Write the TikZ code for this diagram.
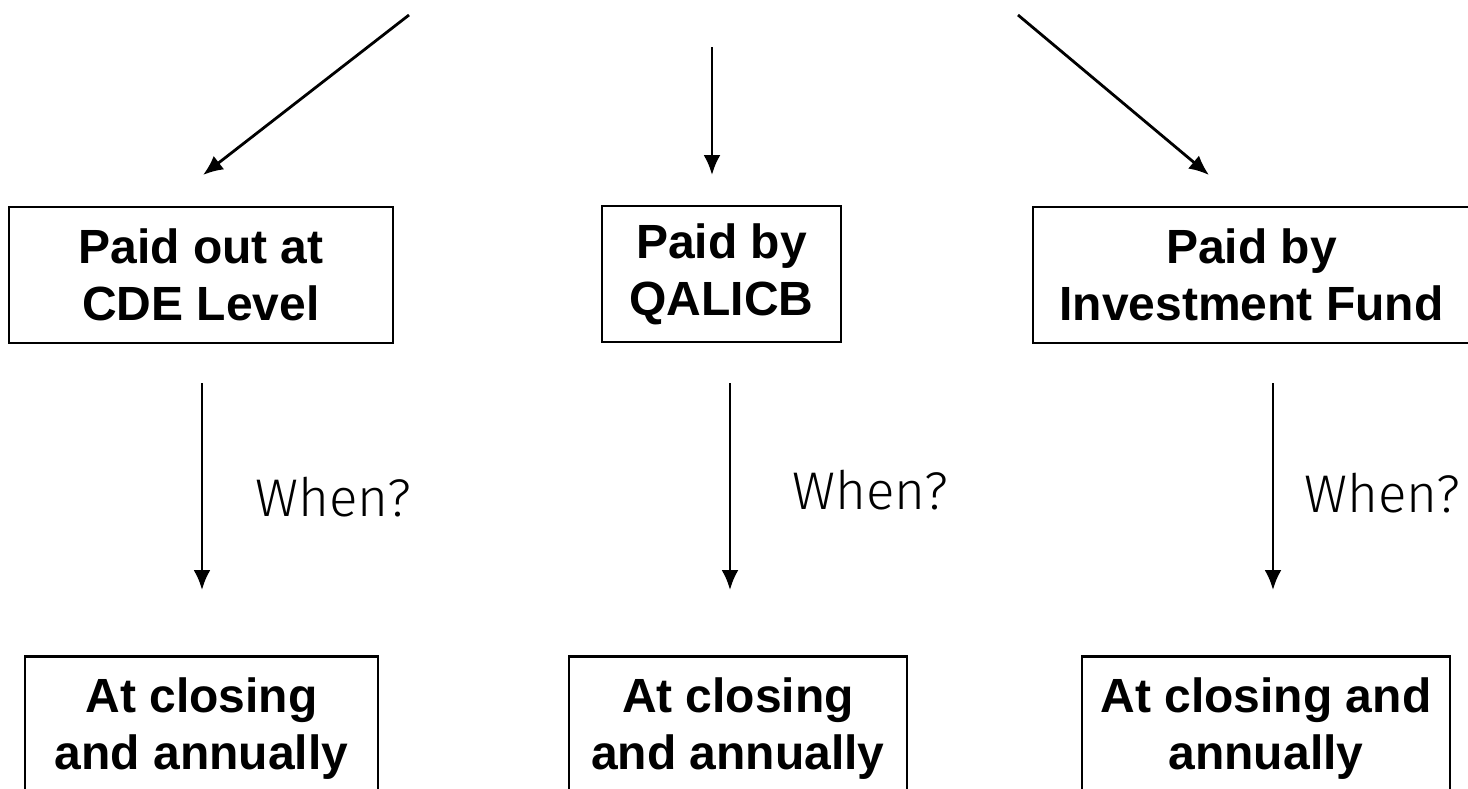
\documentclass[tikz,border=0pt]{standalone}
\usepackage{fontspec}
\setmainfont{Liberation Sans}
\newfontfamily\whenfont{Fira Sans Light}
\usetikzlibrary{arrows.meta}
\begin{document}
\begin{tikzpicture}[x=1pt,y=-1pt,
  box/.style={draw, line width=2.8pt, align=center, inner xsep=0pt,
    font=\bfseries\fontsize{48}{57}\selectfont},
  conn/.style={line width=2.8pt, -{Latex[length=20pt,width=17pt]}},
  whenlbl/.style={font=\whenfont\fontsize{53}{63}\selectfont, inner sep=0pt}]
\useasboundingbox (0,0) rectangle (1468,788);
% top boxes
\node[box, minimum width=384, minimum height=136] (b1) at (201,275) {Paid out at\\CDE Level};
\node[box, minimum width=239, minimum height=136] (b2) at (721.5,274) {Paid by\\QALICB};
\node[box, minimum width=437, minimum height=136] (b3) at (1251.5,275) {Paid by\\Investment Fund};
% bottom boxes
\node[box, anchor=north, minimum width=353, inner ysep=21pt] (b4) at (201.5,655) {At closing\\and annually};
\node[box, anchor=north, minimum width=338, inner ysep=21pt] (b5) at (738,655) {At closing\\and annually};
\node[box, anchor=north, minimum width=368, inner ysep=21pt] (b6) at (1266,655) {At closing and\\annually};
% connector end points
\coordinate (s1) at (409,15);  \coordinate (e1) at (203,175);
\coordinate (s2) at (712,47);  \coordinate (e2) at (712,175);
\coordinate (s3) at (1018,15); \coordinate (e3) at (1209,175);
\coordinate (v1s) at (202,383);  \coordinate (v1e) at (202,590);
\coordinate (v2s) at (730,383);  \coordinate (v2e) at (730,590);
\coordinate (v3s) at (1273,383); \coordinate (v3e) at (1273,590);
\draw[conn] (s1) -- (e1);
\draw[conn] (s2) -- (e2);
\draw[conn] (s3) -- (e3);
\draw[conn] (v1s) -- (v1e);
\draw[conn] (v2s) -- (v2e);
\draw[conn] (v3s) -- (v3e);
% labels
\node[whenlbl] (w1) at (333,497) {When?};
\node[whenlbl] (w2) at (870,490) {When?};
\node[whenlbl] (w3) at (1382,493) {When?};
\end{tikzpicture}
\end{document}
